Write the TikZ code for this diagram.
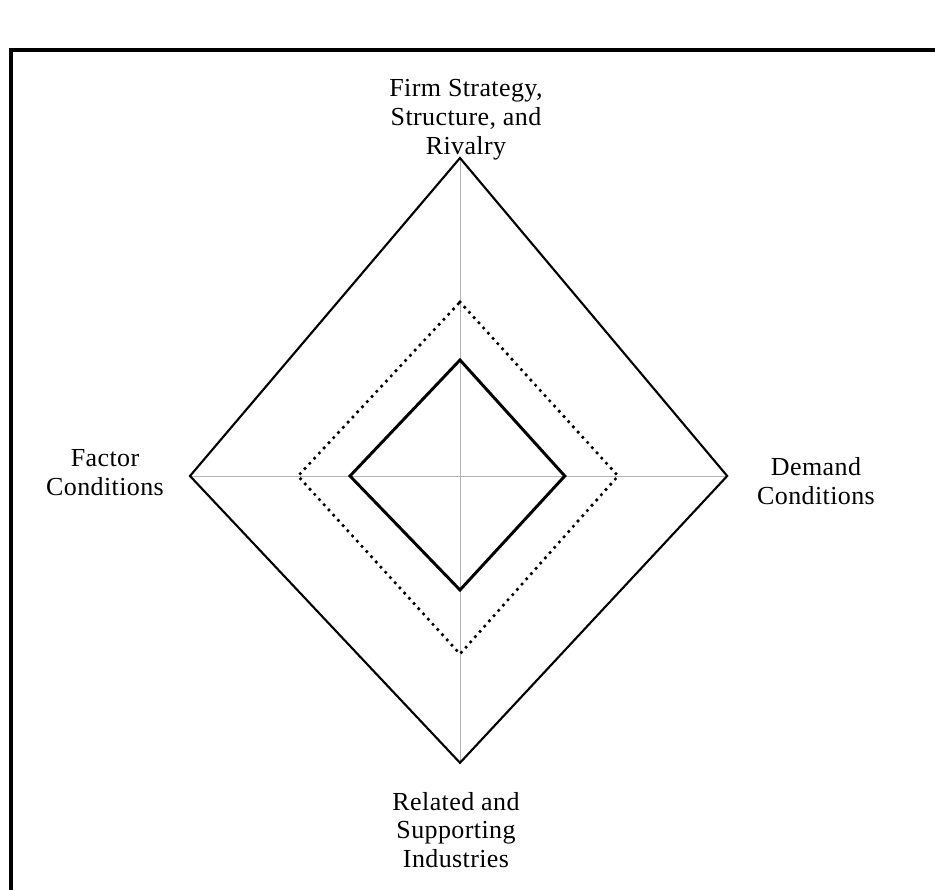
\documentclass[tikz,border=0pt]{standalone}
\usepackage{fontspec}
\setmainfont{Liberation Serif}[LetterSpace=1.5]

\begin{document}
\begin{tikzpicture}[
  axis/.style={gray!60,line width=0.5pt},
  rim/.style={line width=1.5pt,line join=miter},
  core/.style={line width=2.1pt,line join=miter},
  ring/.style={line width=2.6pt,line cap=round,dash pattern=on 0pt off 5pt},
  lbl/.style={align=center,inner sep=0pt,font=\fontsize{18.5}{20.5}\selectfont}]
  \useasboundingbox (-11.5,-10.35) rectangle (11.875,11.9);
  \draw[line width=2.8pt] (11.875,10.65) -| (-11.225,-10.35);
  % corners of the three diamonds
  \foreach \n/\l/\r/\t/\b in {out/6.75/6.68/7.95/7.17,mid/4.05/3.95/4.35/4.45,inn/2.75/2.62/2.9/2.85}{
    \coordinate (\n T) at (0,\t); \coordinate (\n R) at (\r,0);
    \coordinate (\n B) at (0,-\b); \coordinate (\n L) at (-\l,0);}
  \draw[axis] (outT)--(outB) (outL)--(outR);
  \draw[rim] (outT)--(outR)--(outB)--(outL)--cycle;
  \draw[ring] (midT)--(midR)--(midB)--(midL)--cycle;
  \draw[core] (innT)--(innR)--(innB)--(innL)--cycle;
  \node[lbl] (firm) at (0.15,8.9) {Firm Strategy,\\Structure, and\\Rivalry};
  \node[lbl] (factor) at (-8.875,0.08) {Factor\\Conditions};
  \node[lbl] (demand) at (8.9,-0.12) {Demand\\Conditions};
  \node[lbl] (related) at (-0.1,-8.85) {Related and\\Supporting\\Industries};
\end{tikzpicture}
\end{document}
